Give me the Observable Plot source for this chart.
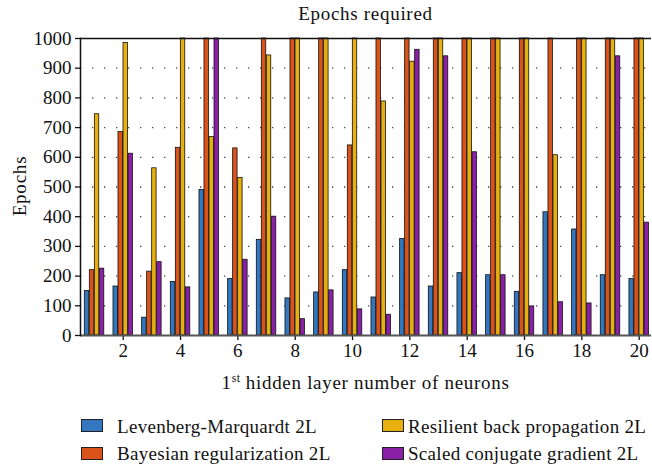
<!DOCTYPE html>
<html><head><meta charset="utf-8">
<script src="https://cdn.jsdelivr.net/npm/d3@7"></script>
<script src="https://cdn.jsdelivr.net/npm/@observablehq/plot@0.6"></script>
<style>
body{margin:0;background:#fff;font-family:"Liberation Serif",serif;color:#111;}
#wrap{position:relative;width:652px;height:468px;overflow:hidden;}
#title{position:absolute;left:80px;width:571px;top:3px;text-align:center;font-size:19px;line-height:22px;letter-spacing:0.7px;}
#chart{position:absolute;left:0;top:28px;}
#chart svg text{font-family:"Liberation Serif",serif;}
#ylab{position:absolute;left:20px;top:186px;transform:translate(-50%,-50%) rotate(-90deg);font-size:19px;line-height:20px;white-space:nowrap;letter-spacing:0.8px;}
#xlab{position:absolute;left:80px;width:571px;top:372px;text-align:center;font-size:19px;line-height:22px;letter-spacing:0.7px;}
#xlab sup{font-size:12px;vertical-align:7px;line-height:0;letter-spacing:0.3px;}
.li{position:absolute;font-size:19px;line-height:20px;white-space:nowrap;letter-spacing:0.3px;}
.sw{position:absolute;width:20px;height:11px;border:1.5px solid #222;}
</style></head>
<body><div id="wrap">
<div id="title">Epochs required</div>
<div id="chart"></div>
<div id="ylab">Epochs</div>
<div id="xlab">1<sup>st</sup> hidden layer number of neurons</div>
<div id="legend"></div>
</div>
<script>
const neurons = [1,2,3,4,5,6,7,8,9,10,11,12,13,14,15,16,17,18,19,20];
const seriesNames = ["Levenberg-Marquardt 2L","Bayesian regularization 2L","Resilient back propagation 2L","Scaled conjugate gradient 2L"];
const colors = ["#3277bf","#d9531a","#e8b00f","#8a20a6"];
const lm  = [150,165,60,180,490,190,322,125,145,220,128,325,165,210,203,147,415,357,203,190];
const br  = [220,685,215,632,1000,630,1000,1000,1000,640,1000,1000,1000,1000,1000,1000,1000,1000,1000,1000];
const rbp = [745,985,563,1000,668,530,943,1000,1000,1000,788,922,1000,1000,1000,1000,607,1000,1000,1000];
const scg = [225,612,247,162,1000,255,400,55,152,88,70,962,940,617,203,98,112,108,940,380];
const yTicks = [0,100,200,300,400,500,600,700,800,900,1000];
const xTicks = [2,4,6,8,10,12,14,16,18,20];

const seriesValues = [lm, br, rbp, scg];
const groupSpan = 0.7;               // fraction of one x unit used by a group of bars
const barStep = groupSpan / seriesNames.length;
const rows = [];
neurons.forEach((n, i) => seriesNames.forEach((s, j) => rows.push({n, j, s, v: seriesValues[j][i]})));

const serif = '"Liberation Serif", serif';
const chart = Plot.plot({
  width: 652, height: 372,
  marginTop: 10, marginBottom: 65, marginLeft: 80, marginRight: 1,
  style: {fontFamily: serif, fontSize: "19px", color: "#111", background: "transparent"},
  x: {domain: [0.51, 20.43], axis: null},
  y: {domain: [0, 1000], axis: null},
  color: {domain: seriesNames, range: colors},
  marks: [
    Plot.ruleY(yTicks.filter(t => t > 0 && t < 1000), {stroke: "#444", strokeWidth: 1.3, strokeDasharray: "1.3,10.7"}),
    Plot.rectY(rows, {
      x1: d => d.n - groupSpan / 2 + d.j * barStep,
      x2: d => d.n - groupSpan / 2 + (d.j + 1) * barStep,
      y: "v", fill: "s", stroke: "#111", strokeWidth: 0.8, insetLeft: 0.3, insetRight: 0.3
    }),
    Plot.axisY(yTicks, {tickSize: 5, tickPadding: 4, tickFormat: d3.format("d"), label: null, fontSize: 19, fontFamily: serif, stroke: "#111", strokeWidth: 1.3}),
    Plot.axisX(xTicks, {tickSize: 5, tickPadding: 3, tickFormat: d3.format("d"), label: null, fontSize: 19, fontFamily: serif, stroke: "#111", strokeWidth: 1.3}),
    Plot.ruleY([1000], {stroke: "#111", strokeWidth: 1.5}),
    Plot.ruleY([0], {stroke: "#555", strokeWidth: 2.2}),
    Plot.frame({anchor: "left", stroke: "#111", strokeWidth: 1.5})
  ]
});
document.getElementById("chart").appendChild(chart);

const legend = document.getElementById("legend");
const pos = [[81, 117, 417, 419], [81, 117, 444, 447], [382, 408, 417, 419], [382, 408, 444, 447]];
seriesNames.forEach((name, k) => {
  const [sx, tx, ty, sy] = pos[k];
  const sw = document.createElement("div");
  sw.className = "sw"; sw.style.left = sx + "px"; sw.style.top = sy + "px"; sw.style.background = colors[k];
  legend.appendChild(sw);
  const t = document.createElement("div");
  t.className = "li"; t.style.left = tx + "px"; t.style.top = ty + "px"; t.textContent = name;
  legend.appendChild(t);
});
</script>
</body></html>
